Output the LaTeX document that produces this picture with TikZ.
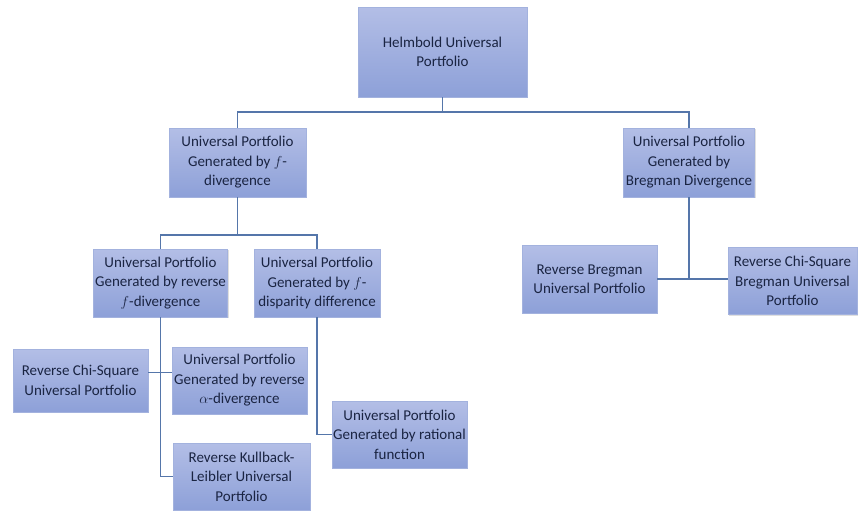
\documentclass[tikz,border=0pt]{standalone}
\usepackage{fontspec}
\setmainfont{Carlito}
\usetikzlibrary{shadows}
\definecolor{boxtop}{HTML}{B3BEE6}
\definecolor{boxbot}{HTML}{8DA0D8}
\definecolor{boxedge}{HTML}{A3B2DE}
\definecolor{linkc}{HTML}{5576AA}
\definecolor{txt}{HTML}{1A2442}
\tikzset{
  box/.style={rectangle, draw=boxedge, line width=0.6pt, top color=boxtop, bottom color=boxbot,
    text=txt, align=center, inner sep=1pt, font=\fontsize{15}{19.5}\selectfont,
    drop shadow={shadow xshift=1.2pt, shadow yshift=-1.2pt, opacity=0.25, fill=gray}},
  link/.style={draw=linkc, line width=1.3pt}
}
\begin{document}
\begin{tikzpicture}[x=1pt,y=1pt]
\useasboundingbox (0,0) rectangle (858,-512);
\node[box, minimum width=169, minimum height=90] (top) at (442.5,-52) {Helmbold Universal\\Portfolio};
\node[box, minimum width=137, minimum height=69] (fdiv) at (237.5,-162.5) {Universal Portfolio\\Generated by $f$-\\divergence};
\node[box, minimum width=131, minimum height=69] (breg) at (689,-162.5) {Universal Portfolio\\Generated by\\Bregman Divergence};
\node[box, minimum width=134, minimum height=68] (revf) at (160.5,-283) {Universal Portfolio\\Generated by reverse\\$f$-divergence};
\node[box, minimum width=126, minimum height=68] (fdisp) at (317,-283) {Universal Portfolio\\Generated by $f$-\\disparity difference};
\node[box, minimum width=135, minimum height=68] (revbreg) at (589.5,-279) {Reverse Bregman\\Universal Portfolio};
\node[box, minimum width=129, minimum height=67] (rcsbreg) at (792.5,-281) {Reverse Chi-Square\\Bregman Universal\\Portfolio};
\node[box, minimum width=135, minimum height=63] (rcs) at (80.5,-380.5) {Reverse Chi-Square\\Universal Portfolio};
\node[box, minimum width=135, minimum height=67] (alpha) at (239.5,-380.5) {Universal Portfolio\\Generated by reverse\\$\alpha$-divergence};
\node[box, minimum width=137, minimum height=67] (kl) at (241.5,-476.5) {Reverse Kullback-\\Leibler Universal\\Portfolio};
\node[box, minimum width=135, minimum height=67] (rational) at (399.5,-434.5) {Universal Portfolio\\Generated by rational\\function};
% connectors
\coordinate (j1) at (442.5,-112);
\coordinate (j2) at (237.5,-235);
\draw[link] (top.south) -- (j1) -| (fdiv.north);
\draw[link] (j1) -| (breg.north);
\draw[link] (fdiv.south) -- (j2) -| (revf.north);
\draw[link] (j2) -| (fdisp.north);
\draw[link] (revf.south) |- (kl.west);
\draw[link] ([yshift=8]rcs.east) -- ([yshift=8]alpha.west);
\draw[link] (fdisp.south) |- (rational.west);
\draw[link] (breg.south) -- (breg.south |- revbreg.east);
\draw[link] (revbreg.east) -- (rcsbreg.west |- revbreg.east);
\end{tikzpicture}
\end{document}
